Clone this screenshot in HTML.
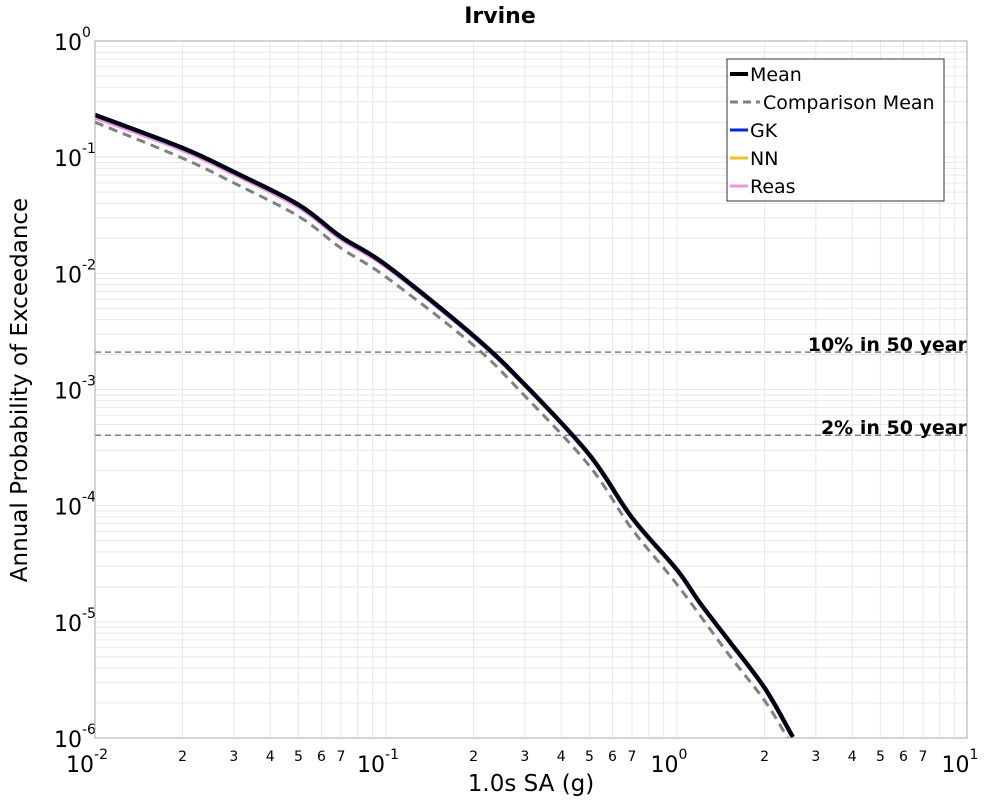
<!DOCTYPE html>
<html><head><meta charset="utf-8"><style>
body{margin:0;background:#fff}
svg{display:block;font-family:"DejaVu Sans","Liberation Sans",sans-serif}
</style></head><body>
<svg id="chart" width="1000" height="800" xmlns="http://www.w3.org/2000/svg">
<text x="500" y="23" text-anchor="middle" font-size="22" font-weight="bold">Irvine</text>
<text x="531" y="791" text-anchor="middle" font-size="23">1.0s SA (g)</text>
<text transform="translate(27,390) rotate(-90)" text-anchor="middle" font-size="23">Annual Probability of Exceedance</text>
<g id="grid"></g><g id="ticks"></g><g id="series"></g>
<rect x="95" y="41" width="872" height="697" fill="none" stroke="#aaa"/>
<g>
<rect x="727" y="59" width="217" height="142" fill="#fff" stroke="#333"/>
<line x1="730" y1="74" x2="748" y2="74" stroke="#000" stroke-width="4"/><text x="750" y="81" font-size="19">Mean</text>
<line x1="730" y1="102" x2="760" y2="102" stroke="#808080" stroke-width="3" stroke-dasharray="8,5"/><text x="763" y="109" font-size="19">Comparison Mean</text>
<line x1="730" y1="130" x2="748" y2="130" stroke="#0022ee" stroke-width="3"/><text x="750" y="137" font-size="19">GK</text>
<line x1="730" y1="158" x2="748" y2="158" stroke="#f0c020" stroke-width="3"/><text x="750" y="165" font-size="19">NN</text>
<line x1="730" y1="186" x2="748" y2="186" stroke="#f090e0" stroke-width="3"/><text x="750" y="193" font-size="19">Reas</text>
</g>
</svg>
<script>
const xVals=[0.01,0.02,0.03,0.05,0.07,0.1,0.2,0.3,0.5,0.7,1,1.2,1.5,2,2.5];
const meanVals=[0.231,0.12,0.0746,0.039,0.0206,0.0118,0.0029,0.0011,2.74e-4,7.9e-5,2.8e-5,1.45e-5,7e-6,2.7e-6,1.02e-6];
const compX=[0.01,0.02,0.03,0.05,0.07,0.1,0.2,0.3,0.5,0.7,1,1.5,2,2.4];
const compVals=[0.2,0.098,0.06,0.031,0.0165,0.0093,0.0024,8.8e-4,2.2e-4,6.3e-5,2.1e-5,5.3e-6,2.1e-6,1.0e-6];
const gkVals=meanVals;const nnVals=meanVals;
const reasVals=[0.218,0.114,0.071,0.037,0.0196,0.0113,0.0028,0.00107,2.7e-4,7.8e-5,2.78e-5,1.44e-5,6.95e-6,2.68e-6,1.01e-6];
const refLevels=[0.0021,0.000404];const refLabels=["10% in 50 year","2% in 50 year"];
const X=v=>95+291*(Math.log10(v)+2);
const Y=v=>41-116.17*Math.log10(v);
const NS="http://www.w3.org/2000/svg";
function mk(t,a,p){const e=document.createElementNS(NS,t);for(const k in a)e.setAttribute(k,a[k]);p.appendChild(e);return e;}
const grid=document.getElementById('grid'),ticks=document.getElementById('ticks'),ser=document.getElementById('series');
for(let d=-2;d<1;d++)for(let m=1;m<10;m++){const x=X(m*Math.pow(10,d));if(m>1||d>-2){const l=mk('line',{x1:x,x2:x,y1:41,y2:738,stroke:'#e8e8e8'},grid);}
 if(m>1&&m<8){const t=mk('text',{x:x,y:761,'text-anchor':'middle','font-size':14},ticks);t.textContent=m;}}
for(let d=-2;d<=1;d++){const t=mk('text',{x:X(Math.pow(10,d))-8,y:772,'text-anchor':'middle','font-size':22},ticks);t.innerHTML='10<tspan dy="-13" font-size="14">'+d+'</tspan>';}
for(let d=-6;d<0;d++)for(let m=1;m<10;m++){const y=Y(m*Math.pow(10,d));const l=mk('line',{x1:95,x2:967,y1:y,y2:y,stroke:'#e8e8e8'},grid);}
for(let d=-6;d<=0;d++){const t=mk('text',{x:54,y:Y(Math.pow(10,d))+9,'font-size':22},ticks);t.innerHTML='10<tspan dy="-13" font-size="14">'+d+'</tspan>';}
refLevels.forEach((v,i)=>{const l=mk('line',{x1:95,x2:967,y1:Y(v),y2:Y(v),stroke:'#808080','stroke-width':1.5,'stroke-dasharray':'6,4'},ser);
 const t=mk('text',{x:967,y:Y(v)-1,'text-anchor':'end','font-size':19,'font-weight':'bold'},ser);t.textContent=refLabels[i];});
function smoothPath(xs,ys){const p=xs.map((x,i)=>[X(x),Y(ys[i])]);let d='M'+p[0][0]+','+p[0][1];
 for(let i=0;i<p.length-1;i++){const p0=p[Math.max(0,i-1)],p1=p[i],p2=p[i+1],p3=p[Math.min(p.length-1,i+2)];
  const c1=[p1[0]+(p2[0]-p0[0])/6,p1[1]+(p2[1]-p0[1])/6],c2=[p2[0]-(p3[0]-p1[0])/6,p2[1]-(p3[1]-p1[1])/6];
  d+=' C'+c1[0]+','+c1[1]+' '+c2[0]+','+c2[1]+' '+p2[0]+','+p2[1];}return d;}
function line(xs,ys,st,w,dash,name){const p=mk('path',{d:smoothPath(xs,ys),fill:'none',stroke:st,'stroke-width':w,'stroke-linejoin':'round'},ser);if(dash)p.setAttribute('stroke-dasharray',dash);}
line(compX,compVals,'#808080',3,'9,6','comparison-mean-line');
line(xVals,reasVals,'#f090e0',3,null,'reas-line');
line(xVals,nnVals,'#f0c020',3,null,'nn-line');
line(xVals,gkVals,'#0022ee',4.5,null,'gk-line');
line(xVals,meanVals,'#000',4,null,'mean-line');
</script>
</body></html>
